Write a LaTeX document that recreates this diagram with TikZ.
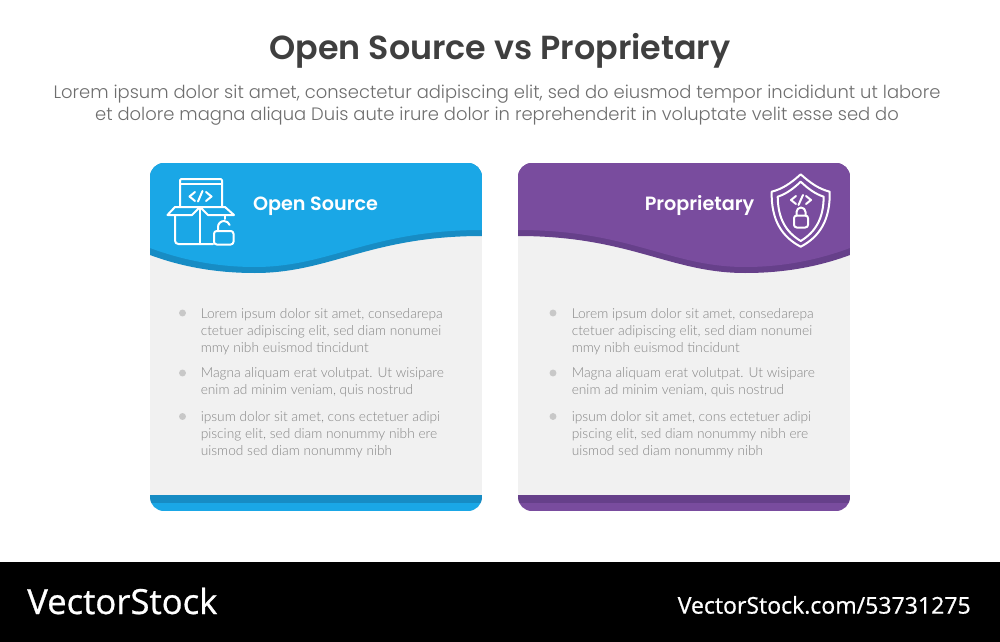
\documentclass[tikz,border=0pt]{standalone}
\usepackage{fontspec}
\setmainfont{Lato Light}
\newfontfamily\headfont{Poppins SemiBold}
\newfontfamily\leadfont{Poppins Light}
\newfontfamily\logofont[FakeBold=0.8]{Open Sans}
\definecolor{skymain}{HTML}{1AA7E6}
\definecolor{skydark}{HTML}{178CC4}
\definecolor{plummain}{HTML}{794C9E}
\definecolor{plumdark}{HTML}{66408A}
\definecolor{cardgray}{HTML}{F1F1F1}
\definecolor{inkgray}{HTML}{3F3F3F}
\definecolor{leadgray}{HTML}{6E6E6E}
\definecolor{bodygray}{HTML}{858585}
\definecolor{dotgray}{HTML}{C8C8C8}
\tikzset{
    cardtitle/.style={font=\headfont\fontsize{14.4}{17}\selectfont, text=white},
    cardbody/.style={anchor=west, align=left, inner sep=0pt, text=bodygray,
        font=\fontsize{10.3}{12.75}\selectfont},
    carddot/.style={circle, fill=dotgray, inner sep=0pt, minimum size=5.2pt},
    iconline/.style={draw=white, line width=1.5pt, line join=round, line cap=round},
}
\begin{document}
\begin{tikzpicture}[x=0.75pt, y=-0.75pt]
    \useasboundingbox (0,0) rectangle (1000,642);

    \node[font=\headfont\fontsize{25}{30}\selectfont, text=inkgray] (title) at (500,51) {Open Source vs Proprietary};
    \node[font=\leadfont\fontsize{13.46}{16.5}\selectfont, text=leadgray, align=center] (lead) at (497,105.5)
        {Lorem ipsum dolor sit amet, consectetur adipiscing elit, sed do eiusmod tempor incididunt ut labore\\
         et dolore magna aliqua Duis aute irure dolor in reprehenderit in voluptate velit esse sed do};

    % both cards, the second one is the mirror of the first
    \foreach \cardshift/\cardflip/\colmain/\coldark in {0/1/skymain/skydark, 1000/-1/plummain/plumdark} {
        \begin{scope}[shift={(\cardshift,0)}, xscale=\cardflip]
            \begin{scope}
                \clip[rounded corners=10.5pt] (150,163) rectangle (482,511);
                \fill[cardgray] (150,163) rectangle (482,511);
                \fill[\coldark] (150,163) -- (482,163) -- (482,236)
                    .. controls (370,236) and (330,273) .. (255,273)
                    .. controls (220,273) and (185,268) .. (150,255) -- cycle;
                \fill[\colmain] (150,163) -- (482,163) -- (482,230)
                    .. controls (370,230) and (330,267) .. (255,267)
                    .. controls (220,267) and (185,261) .. (150,248) -- cycle;
                \fill[\coldark] (150,495) rectangle (482,503);
                \fill[\colmain] (150,503) rectangle (482,511);
            \end{scope}
        \end{scope}
    }

    \node[cardtitle] (opentitle) at (315.5,206) {Open Source};
    \node[cardtitle] (proptitle) at (699.5,206) {Proprietary};

    % box with screen and open lock
    \draw[iconline, rounded corners=1pt] (180,207) -- (180,179) -- (222,179) -- (222,207);
    \draw[iconline] (180,184) -- (222,184);
    \draw[iconline] (195,192) -- (189.5,196.5) -- (195,201);
    \draw[iconline] (198,201.5) -- (202.5,191);
    \draw[iconline] (206,192) -- (211.5,196.5) -- (206,201);
    \draw[iconline] (175,207) -- (225,207) -- (234,215) -- (208,215) -- (200,207) -- (192,215) -- (167.5,215) -- cycle;
    \draw[iconline, rounded corners=2.5pt] (213,244) -- (175,244) -- (175,215);
    \draw[iconline] (200,207) -- (200,244);
    \draw[iconline] (225,215) -- (225,219);
    \draw[iconline, rounded corners=2pt] (214,231) rectangle (233.5,244.5);
    \draw[iconline] (218,231) -- (218,227) arc[start angle=180, end angle=340, radius=6];

    % shield with code and lock
    \draw[iconline] (800.7,174.3) .. controls (790,184) and (782,189) .. (771.7,191.7)
        .. controls (771,220) and (782,237) .. (800.7,246.7)
        .. controls (819.4,237) and (830.4,220) .. (829.7,191.7)
        .. controls (819.4,189) and (811.4,184) .. (800.7,174.3) -- cycle;
    \draw[iconline] (800.7,181.7) .. controls (793,189) and (786,194) .. (777.7,196.7)
        .. controls (778,219) and (786,232) .. (800.7,241)
        .. controls (815.4,232) and (823.4,219) .. (823.7,196.7)
        .. controls (815.4,194) and (808.4,189) .. (800.7,181.7) -- cycle;
    \draw[iconline] (796,196) -- (791,200) -- (796,204);
    \draw[iconline] (798.5,205) -- (803,195);
    \draw[iconline] (806,196) -- (811,200) -- (806,204);
    \draw[iconline, rounded corners=2pt] (794,215.5) rectangle (808,227.5);
    \draw[iconline] (796.5,215.5) -- (796.5,212) arc[start angle=180, end angle=360, radius=4.5] -- (805.5,215.5);

    % bullet text, the same in both cards
    \foreach \cardkey/\cardx in {a/0, b/371} {
        \node[carddot] (dot\cardkey1) at (182.5+\cardx-0.5*\cardx/371,313) {};
        \node[carddot] (dot\cardkey2) at (182.5+\cardx-0.5*\cardx/371,373) {};
        \node[carddot] (dot\cardkey3) at (182.5+\cardx-0.5*\cardx/371,416.5) {};
        \node[cardbody] (txt\cardkey1) at (200.5+\cardx,331.5)
            {Lorem ipsum dolor sit amet, consedarepa\\ctetuer adipiscing elit, sed diam nonumei\\mmy nibh euismod tincidunt};
        \node[cardbody] (txt\cardkey2) at (200.5+\cardx,382.5)
            {Magna aliquam erat volutpat. Ut wisipare\\enim ad minim veniam, quis nostrud};
        \node[cardbody] (txt\cardkey3) at (200.5+\cardx,434.5)
            {ipsum dolor sit amet, cons ectetuer adipi\\piscing elit, sed diam nonummy nibh ere\\uismod sed diam nonummy nibh};
    }

    % footer
    \fill[black] (0,562) rectangle (1000,642);
    \node[anchor=west, inner sep=0pt, text=white, font=\logofont\fontsize{26}{30}\selectfont] (logo) at (27,601) {VectorStock};
    \node[anchor=east, inner sep=0pt, text=white, font=\logofont\fontsize{17.3}{20}\selectfont] (stockid) at (971,605) {VectorStock.com/53731275};
\end{tikzpicture}
\end{document}
